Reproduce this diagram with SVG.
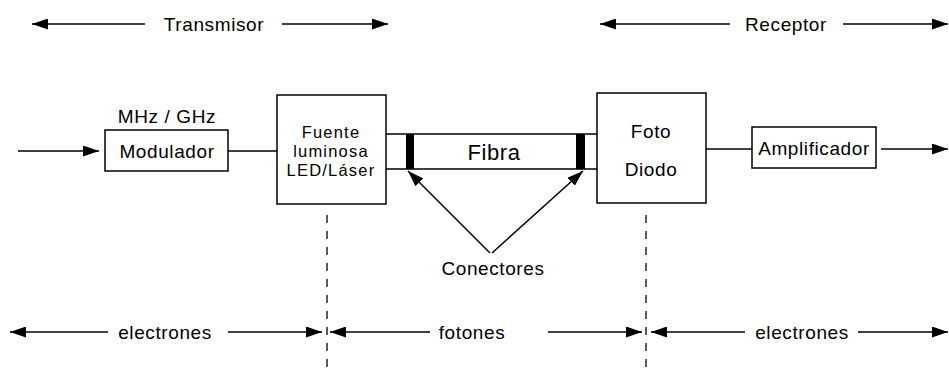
<svg xmlns="http://www.w3.org/2000/svg" width="949" height="369" viewBox="0 0 949 369">
<style>
text{font-family:"Liberation Sans",Arial,sans-serif;font-size:19px;fill:#000;text-anchor:middle;letter-spacing:0.6px}
text.sm{font-size:16.5px;letter-spacing:1.2px}
.box{fill:#fff;stroke:#000;stroke-width:1.5}
.ln{stroke:#000;stroke-width:1.5;fill:none}
.dash{stroke:#000;stroke-width:1.3;stroke-dasharray:8 8;fill:none}
</style>
<defs>
<marker id="ah" viewBox="0 0 16 11" refX="16" refY="5.5" markerWidth="16" markerHeight="11" markerUnits="userSpaceOnUse" orient="auto-start-reverse">
<path d="M0,0 L16,5.5 L0,11 Z" fill="#000"/>
</marker>
</defs>
<rect width="949" height="369" fill="#fff"/>
<g id="connectors">
<line class="ln" x1="145" y1="24" x2="32" y2="24" marker-end="url(#ah)"/>
<line class="ln" x1="282" y1="24" x2="388" y2="24" marker-end="url(#ah)"/>
<line class="ln" x1="730" y1="24" x2="600" y2="24" marker-end="url(#ah)"/>
<line class="ln" x1="843" y1="24" x2="948" y2="24" marker-end="url(#ah)"/>
<line class="ln" x1="18" y1="151" x2="99" y2="151" marker-end="url(#ah)"/>
<line class="ln" x1="228" y1="151" x2="277" y2="151"/>
<line class="ln" x1="706" y1="149" x2="752" y2="149"/>
<line class="ln" x1="881" y1="149" x2="948" y2="149" marker-end="url(#ah)"/>
<line class="ln" x1="490" y1="253" x2="408" y2="171" marker-end="url(#ah)"/>
<line class="ln" x1="492" y1="253" x2="583" y2="171" marker-end="url(#ah)"/>
<line class="dash" x1="327" y1="215" x2="327" y2="369"/>
<line class="dash" x1="646" y1="215" x2="646" y2="369"/>
<line class="ln" x1="108" y1="332" x2="10" y2="332" marker-end="url(#ah)"/>
<line class="ln" x1="228" y1="332" x2="322" y2="332" marker-end="url(#ah)"/>
<line class="ln" x1="430" y1="332" x2="330" y2="332" marker-end="url(#ah)"/>
<line class="ln" x1="548" y1="332" x2="642" y2="332" marker-end="url(#ah)"/>
<line class="ln" x1="745" y1="332" x2="651" y2="332" marker-end="url(#ah)"/>
<line class="ln" x1="858" y1="332" x2="948" y2="332" marker-end="url(#ah)"/>
</g>
<g id="label-transmisor"><text x="214" y="31">Transmisor</text></g>
<g id="label-receptor"><text x="786" y="31">Receptor</text></g>
<g id="modulador">
<text x="167" y="123">MHz / GHz</text>
<rect class="box" x="105" y="130" width="123" height="41"/>
<text x="167" y="158">Modulador</text>
</g>
<g id="fuente">
<rect class="box" x="277" y="95" width="109" height="109"/>
<text class="sm" x="331" y="138">Fuente</text>
<text class="sm" x="331" y="157">luminosa</text>
<text class="sm" x="331" y="176">LED/Láser</text>
</g>
<g id="fibra">
<line class="ln" x1="386" y1="134" x2="597" y2="134"/>
<line class="ln" x1="386" y1="169" x2="597" y2="169"/>
<rect x="406" y="134" width="8" height="35" fill="#000"/>
<rect x="576" y="134" width="9" height="35" fill="#000"/>
<text x="494" y="160" style="font-size:22px">Fibra</text>
</g>
<g id="conectores"><text x="493" y="275">Conectores</text></g>
<g id="fotodiodo">
<rect class="box" x="597" y="93" width="109" height="110"/>
<text x="651" y="138">Foto</text>
<text x="651" y="176">Diodo</text>
</g>
<g id="amplificador">
<rect class="box" x="752" y="127" width="124" height="41"/>
<text x="814" y="155">Amplificador</text>
</g>
<g id="bottom-labels">
<text x="165" y="339">electrones</text>
<text x="472" y="339">fotones</text>
<text x="802" y="339">electrones</text>
</g>
</svg>
